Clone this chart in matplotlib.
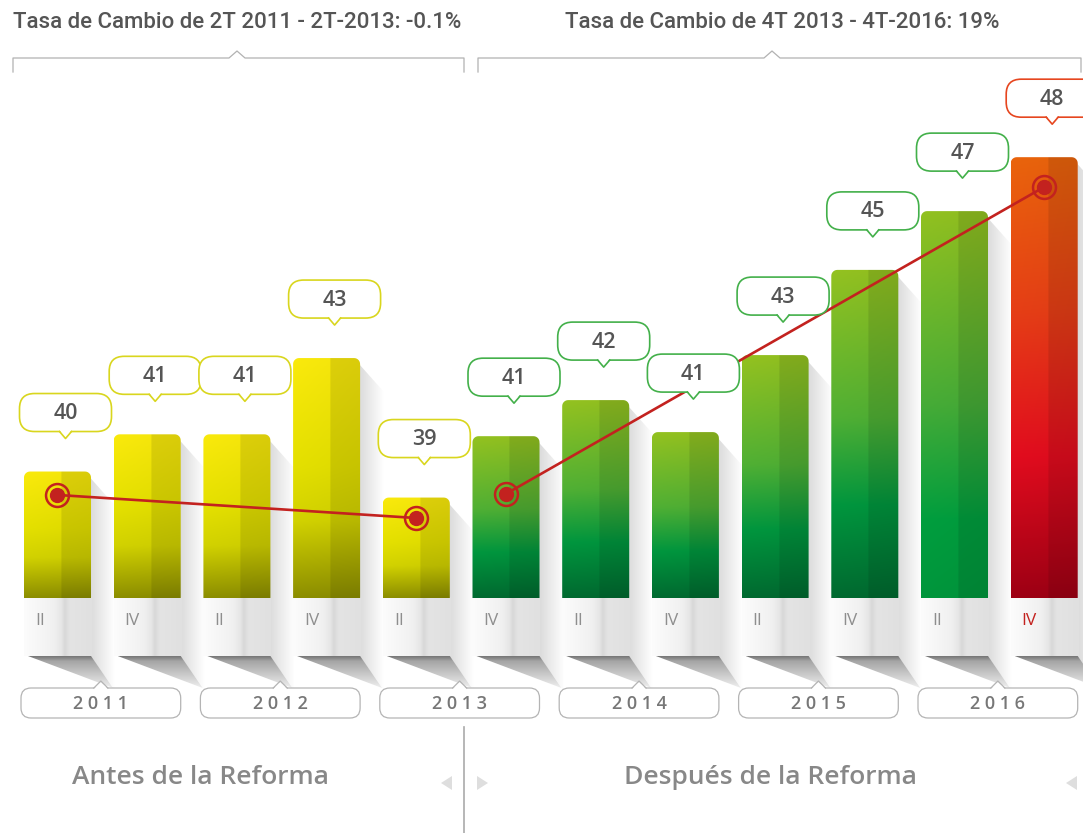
import numpy as np
import matplotlib
matplotlib.use('Agg')
import matplotlib.pyplot as plt
from matplotlib.path import Path
from matplotlib.patches import PathPatch, FancyBboxPatch, Polygon
from matplotlib.lines import Line2D
from matplotlib.transforms import Affine2D

# ---------------- data ----------------
anios = ['2011', '2012', '2013', '2014', '2015', '2016']
trimestres = ['II', 'IV', 'II', 'IV', 'II', 'IV', 'II', 'IV', 'II', 'IV', 'II', 'IV']
valores = [40.0, 41.0, 41.0, 43.05, 39.3, 40.95, 41.92, 41.06, 43.13, 45.42, 47.0, 48.45]
etiquetas = ['40', '41', '41', '43', '39', '41', '42', '41', '43', '45', '47', '48']
grupo = ['antes'] * 5 + ['despues'] * 5 + ['despues2', 'final']
tendencia_antes_x = [0, 4]
tendencia_antes_y = [39.37, 38.75]
tendencia_despues_x = [5, 11]
tendencia_despues_y = [39.40, 47.65]
titulo_antes = 'Tasa de Cambio de 2T 2011 - 2T-2013: -0.1%'
titulo_despues = 'Tasa de Cambio de 4T 2013 - 4T-2016: 19%'
etiqueta_antes = 'Antes de la Reforma'
etiqueta_despues = 'Después de la Reforma'

# ---------------- layout ----------------
W, H = 1083, 833
X0, DX = 57.5, 89.7          # pixel centre of first bar, spacing
BASE, BASE_PY, K = 36.6, 598, 37.2   # value at bar foot, its pixel row, px per unit
BAR_W = 0.747

XMIN, XMAX = -X0 / DX, (W - X0) / DX
YMIN, YMAX = BASE - (H - BASE_PY) / K, BASE + BASE_PY / K

def px2x(px):
    return (px - X0) / DX

def py2y(py):
    return BASE + (BASE_PY - py) / K

fig = plt.figure(figsize=(W / 100, H / 100), dpi=100)
ax = fig.add_axes([0, 0, 1, 1])
ax.set_axis_off()
pix = Affine2D().scale(1, -1).translate(0, H)   # pixel coords, origin top-left

def vgrad(stops, n=200, m=60, split=0.55, dark=0.9):
    fr = np.linspace(0, 1, n)
    arr = np.zeros((n, m, 3))
    sf = [s[0] for s in stops]
    for c in range(3):
        col = np.interp(fr, sf, [s[1][c] for s in stops]) / 255.0
        arr[:, :, c] = col[:, None]
    cols = np.linspace(0, 1, m)
    fac = np.where(cols > split, dark, 1.0)
    fac = fac * (1.0 - 0.03 * cols)
    arr = arr * fac[None, :, None]
    return np.clip(arr, 0, 1)

estilos = {
    'antes': [(0, (250, 234, 12)), (0.45, (228, 224, 0)), (0.68, (210, 210, 0)), (1.0, (140, 142, 0))],
    'despues': [(0, (148, 194, 32)), (0.45, (80, 176, 52)), (0.72, (0, 150, 62)), (1.0, (0, 106, 48))],
    'despues2': [(0, (146, 193, 32)), (0.5, (70, 172, 55)), (0.8, (0, 158, 62)), (1.0, (0, 150, 60))],
    'final': [(0, (234, 100, 12)), (0.35, (230, 62, 22)), (0.68, (226, 12, 30)), (1.0, (158, 0, 20))],
}
borde_globo = {'antes': '#d9d61e', 'despues': '#43b04a', 'despues2': '#43b04a', 'final': '#e6461f'}
ROJO = '#c3221f'
FUENTE = 'Open Sans'

def rounded_top(x0, x1, y0, y1, rx, ry, n=8):
    verts = [(x0, y0), (x1, y0)]
    t = np.linspace(0, np.pi / 2, n)
    for a in t:  # right top corner
        verts.append((x1 - rx + rx * np.cos(a), y1 - ry + ry * np.sin(a)))
    for a in t:  # left top corner
        verts.append((x0 + rx - rx * np.sin(a), y1 - ry + ry * np.cos(a)))
    verts.append((x0, y0))
    return Path(verts, closed=True)

xs = np.arange(len(valores))
alturas = [v - BASE for v in valores]
barras = ax.bar(xs, alturas, bottom=BASE, width=BAR_W, color='none', edgecolor='none', zorder=3)

for i, rect in enumerate(barras):
    x0 = rect.get_x(); x1 = x0 + rect.get_width()
    y0 = rect.get_y(); y1 = y0 + rect.get_height()
    lpx = (x0 * DX) + X0
    rpx = (x1 * DX) + X0
    tpy = BASE_PY - K * (y1 - BASE)

    # right side shadow
    sh = np.zeros((2, 60, 4)); sh[:, :, :3] = 0.55
    sh[:, :, 3] = np.linspace(0.32, 0.0, 60)[None, :]
    sp = Polygon([(rpx - 1, tpy + 6), (rpx + 24, tpy + 34), (rpx + 24, 690), (rpx - 1, 656)],
                 closed=True, transform=pix, facecolor='none', edgecolor='none')
    im = ax.imshow(sh, extent=(px2x(rpx - 1), px2x(rpx + 24), py2y(690), py2y(tpy + 6)),
                   aspect='auto', interpolation='bilinear', zorder=1)
    im.set_clip_path(sp)

    # panel under bar
    m = 80
    cf = np.linspace(0, 1, m)
    g = np.interp(cf, [0, 0.45, 0.55, 0.6, 0.68, 1.0], [252, 240, 230, 216, 228, 224]) / 255.0
    pan = np.repeat(np.repeat(g[None, :, None], 3, axis=2), 2, axis=0)
    ax.imshow(pan, extent=(x0, x1, py2y(656), py2y(BASE_PY)), aspect='auto',
              interpolation='bilinear', zorder=2)

    # wedge shadow below panel
    wv = np.linspace(0, 1, 40)
    wg = np.interp(wv, [0, 0.15, 1], [120, 165, 238]) / 255.0
    wedge = np.repeat(np.repeat(wg[:, None, None], 3, axis=2), 2, axis=1)
    wp = Polygon([(lpx + 4, 656), (rpx, 656), (rpx + 22, 688)], closed=True, transform=pix,
                 facecolor='none', edgecolor='none')
    im = ax.imshow(wedge, extent=(px2x(lpx + 4), px2x(rpx + 22), py2y(688), py2y(656)),
                   aspect='auto', interpolation='bilinear', zorder=2)
    im.set_clip_path(wp)

    # gradient bar with rounded top
    path = rounded_top(x0, x1, y0, y1, 6 / DX, 6 / K)
    clip = PathPatch(path, transform=ax.transData, facecolor='none', edgecolor='none')
    im = ax.imshow(vgrad(estilos[grupo[i]]), extent=(x0, x1, y0, y1), aspect='auto',
                   interpolation='bilinear', zorder=3)
    im.set_clip_path(clip)

    # quarter label
    ax.text(lpx + 11, 621, trimestres[i], transform=pix, ha='left', va='center',
            fontsize=12.5, family=FUENTE, fontweight='normal',
            color=(ROJO if grupo[i] == 'final' else '#8e8e8e'), zorder=9)

    # callout
    cx = X0 + DX * i + 8
    cy = tpy - 59
    col = borde_globo[grupo[i]]
    box = FancyBboxPatch((cx - 46, cy - 19), 92, 38, boxstyle='round,pad=0,rounding_size=15',
                         transform=pix, facecolor='white', edgecolor=col, linewidth=1.2, zorder=6)
    ax.add_patch(box)
    by = cy + 19
    ax.add_patch(Polygon([(cx - 6, by - 1.5), (cx, by + 7), (cx + 6, by - 1.5)], closed=True,
                         transform=pix, facecolor='white', edgecolor='none', zorder=7))
    ax.add_line(Line2D([cx - 6, cx, cx + 6], [by, by + 7, by], transform=pix, color=col,
                       linewidth=1.2, zorder=7))
    ax.text(cx, cy + 1, etiquetas[i], transform=pix, ha='center', va='center', fontsize=15.5,
            family=FUENTE, fontweight='semibold', color='#555555', zorder=8)

# trend lines with markers
for tx, ty in [(tendencia_antes_x, tendencia_antes_y), (tendencia_despues_x, tendencia_despues_y)]:
    ax.plot(tx, ty, color=ROJO, linewidth=1.9, zorder=5, solid_capstyle='round')
    ax.plot(tx, ty, linestyle='none', marker='o', markersize=16.5, markerfacecolor='none',
            markeredgecolor=ROJO, markeredgewidth=1.8, zorder=5)
    ax.plot(tx, ty, linestyle='none', marker='o', markersize=10, markerfacecolor=ROJO,
            markeredgecolor=ROJO, zorder=5)

# year boxes
for j, an in enumerate(anios):
    left = X0 + DX * (2 * j) - 33.5 - 3
    right = X0 + DX * (2 * j + 1) + 33.5
    cxy = (left + right) / 2
    ax.add_patch(FancyBboxPatch((left, 688), right - left, 30, boxstyle='round,pad=0,rounding_size=10',
                                transform=pix, facecolor='white', edgecolor='#b4b4b4',
                                linewidth=0.9, zorder=6))
    ax.add_patch(Polygon([(cxy - 7, 689), (cxy, 682), (cxy + 7, 689)], closed=True, transform=pix,
                         facecolor='white', edgecolor='none', zorder=7))
    ax.add_line(Line2D([cxy - 7, cxy, cxy + 7], [688, 681, 688], transform=pix, color='#b4b4b4',
                       linewidth=0.9, zorder=7))
    ax.text(cxy, 704, ' '.join(an), transform=pix, ha='center', va='center', fontsize=13,
            family=FUENTE, fontweight='semibold', color='#777777', zorder=8)

# top titles and brackets
ax.text(13, 22, titulo_antes, transform=pix, ha='left', va='center', fontsize=16,
        family='Roboto', fontweight='medium', color='#555555')
ax.text(565, 22, titulo_despues, transform=pix, ha='left', va='center', fontsize=16,
        family='Roboto', fontweight='medium', color='#555555')
for l, r, c in [(13, 464, 237), (478, 1081, 772)]:
    ax.add_line(Line2D([l, l, c - 8, c, c + 8, r, r], [72, 58, 58, 51, 58, 58, 72], transform=pix,
                       color='#b2b2b2', linewidth=0.9))

# bottom labels
ax.text(200, 777, etiqueta_antes, transform=pix, ha='center', va='center', fontsize=19,
        family=FUENTE, fontweight='semibold', color='#888888')
ax.text(770, 777, etiqueta_despues, transform=pix, ha='center', va='center', fontsize=19,
        family=FUENTE, fontweight='semibold', color='#888888')
ax.add_line(Line2D([464, 464], [727, 833], transform=pix, color='#aaaaaa', linewidth=1.2))
for tri in ([(441, 783), (452, 776), (452, 790)], [(477, 776), (488, 783), (477, 790)],
            [(1066, 783), (1077, 776), (1077, 790)]):
    ax.add_patch(Polygon(tri, closed=True, transform=pix, facecolor='#dedede', edgecolor='none'))

ax.set_xlim(XMIN, XMAX)
ax.set_ylim(YMIN, YMAX)
fig.savefig('out.png', dpi=100, facecolor='white')
